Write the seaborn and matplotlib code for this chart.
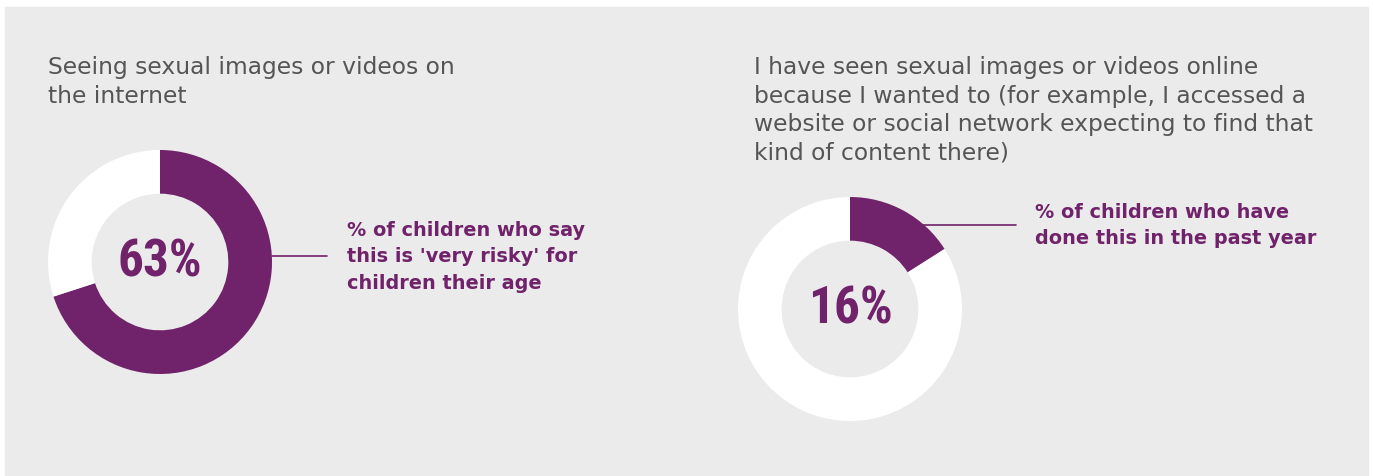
import matplotlib
matplotlib.use("Agg")
import matplotlib.pyplot as plt
import seaborn as sns
from matplotlib.patches import Rectangle

# chart data
titles = ["Seeing sexual images or videos on\nthe internet",
          "I have seen sexual images or videos online\nbecause I wanted to (for example, I accessed a\n"
          "website or social network expecting to find that\nkind of content there)"]
shares = [63, 16]          # printed figures
arc_shares = [70, 16]      # arc length as drawn in the picture
notes = ["% of children who say\nthis is 'very risky' for\nchildren their age",
         "% of children who have\ndone this in the past year"]

purple = "#70226a"
grey_bg = "#ebebeb"
title_col = "#555555"

sns.set_theme(style="white")
plt.rcParams['font.family'] = ['DejaVu Sans']

W, H = 1373, 477
fig = plt.figure(figsize=(W / 100, H / 100), dpi=100)
fig.patch.set_facecolor("white")

# background layer in pixel coords
bg = fig.add_axes([0, 0, 1, 1])
bg.set_xlim(0, W)
bg.set_ylim(H, 0)
bg.axis("off")
bg.add_patch(Rectangle((5, 8), 1363, 470, color=grey_bg, zorder=0))

# donut centres / radius in pixels (layout only)
centres = [(160, 263), (850, 310)]
r = 112
title_pos = [(48, 56), (754, 56)]
note_pos = [(347, 221), (1035, 203)]
leaders = [((272, 327), 257), ((920, 1016), 226)]

for i in range(2):
    cx, cy = centres[i]
    ax = fig.add_axes([(cx - r) / W, (H - cy - r) / H, 2 * r / W, 2 * r / H])
    ax.pie([arc_shares[i], 100 - arc_shares[i]], colors=[purple, "white"], startangle=90,
           counterclock=False, wedgeprops=dict(width=0.39, linewidth=0))
    ax.set_xlim(-1, 1)
    ax.set_ylim(-1, 1)
    ax.set_aspect("equal")
    ax.patch.set_alpha(0)
    ax.text(0, 0, f"{shares[i]}%", ha="center", va="center", color=purple,
            fontsize=37, fontweight="semibold", family=['Roboto Condensed', 'DejaVu Sans'])

    tx, ty = title_pos[i]
    bg.text(tx, ty, titles[i], ha="left", va="top", color=title_col,
            fontsize=16.8, linespacing=1.31)
    nx, ny = note_pos[i]
    bg.text(nx, ny, notes[i], ha="left", va="top", color=purple,
            fontsize=13.9, fontweight="bold", linespacing=1.5)
    (x0, x1), ly = leaders[i]
    bg.plot([x0, x1], [ly, ly], color=purple, lw=1.2)

fig.savefig("out.png", dpi=100, facecolor="white")
